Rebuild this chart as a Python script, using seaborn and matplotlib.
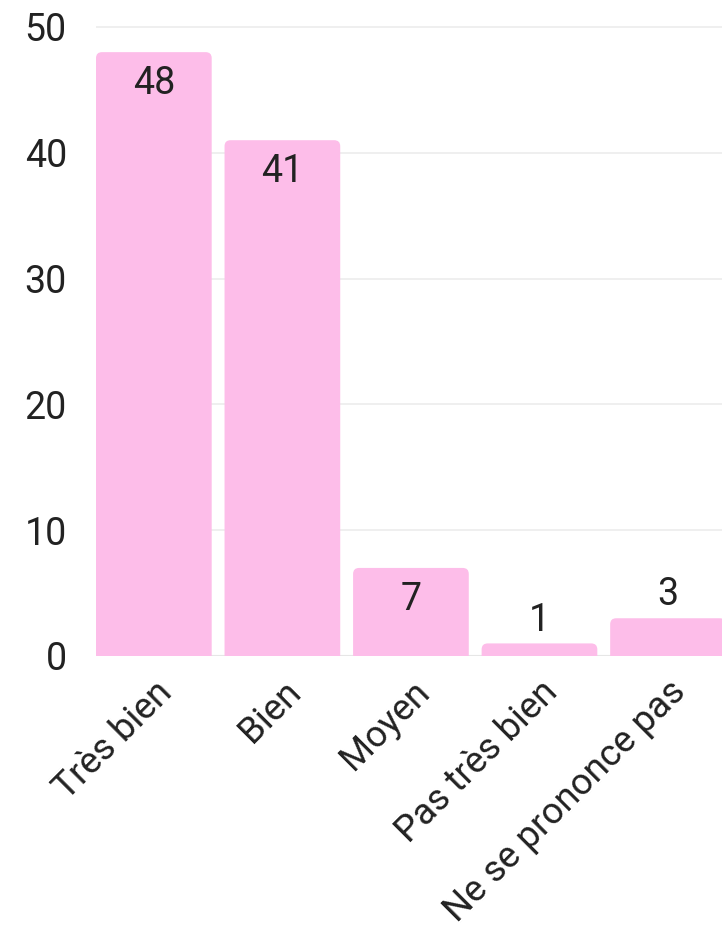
import matplotlib
matplotlib.use("Agg")
import matplotlib.pyplot as plt
import seaborn as sns
from matplotlib.patches import FancyBboxPatch

# data
categories = ["Très bien", "Bien", "Moyen", "Pas très bien", "Ne se prononce pas"]
values = [48, 41, 7, 1, 3]
y_ticks = [0, 10, 20, 30, 40, 50]

pink = "#fdbde9"

sns.set_style("white")
plt.rcParams["font.family"] = ["Roboto", "DejaVu Sans"]

fig = plt.figure(figsize=(7.22, 9.36), dpi=100)
ax = fig.add_axes([96 / 722, 1 - 656 / 936, 1 - 96 / 722, (656 - 14.4) / 936])

sns.barplot(x=categories, y=values, color=pink, saturation=1, width=0.9, ax=ax)

# rounded top corners
for p in list(ax.patches):
    x0, y0 = p.get_x(), p.get_y()
    w, h = p.get_width(), p.get_height()
    p.remove()
    box = FancyBboxPatch((x0, y0 - 1), w, h + 1,
                         boxstyle="round,pad=0,rounding_size=0.047",
                         mutation_aspect=10.16, facecolor=pink,
                         edgecolor="none", zorder=2)
    ax.add_patch(box)

ax.set_xlim(-0.45, 4.42)
ax.set_ylim(0, 51)
ax.set_yticks(y_ticks)
ax.yaxis.grid(True, color="#ececec", linewidth=1.2, zorder=0)
ax.set_axisbelow(True)
ax.axhline(0, color="#e6e6e6", linewidth=1.5, zorder=1)
for s in ax.spines.values():
    s.set_visible(False)

ax.tick_params(axis="y", length=0, pad=21, labelsize=27, labelcolor="#222222")
ax.tick_params(axis="x", length=0, pad=13, labelsize=26.5, labelcolor="#222222")
for lab in ax.get_xticklabels():
    lab.set_rotation(45)
    lab.set_ha("right")
    lab.set_rotation_mode("anchor")

for i, v in enumerate(values):
    if v >= 5:
        ax.annotate(str(v), (i, v), xytext=(0, -9.5), textcoords="offset points",
                    ha="center", va="top", fontsize=27, color="#222222")
    else:
        ax.annotate(str(v), (i, v), xytext=(0, 3.5), textcoords="offset points",
                    ha="center", va="bottom", fontsize=27, color="#222222")

ax.set_xlabel("")
ax.set_ylabel("")
fig.savefig("out.png", dpi=100)
